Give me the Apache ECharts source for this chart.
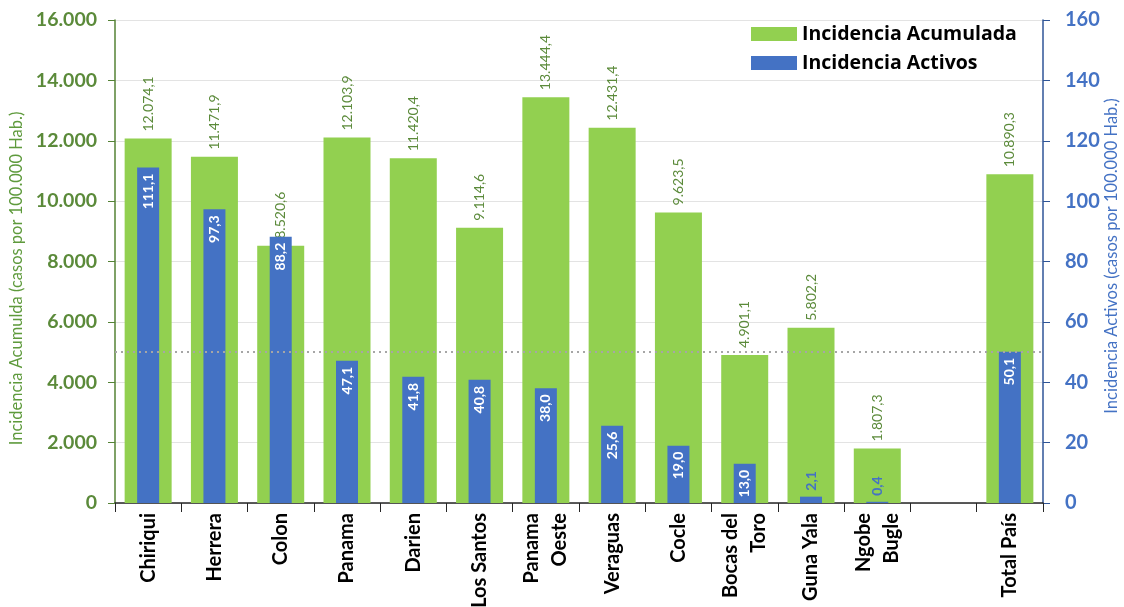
<!DOCTYPE html>
<html><head><meta charset="utf-8">
<script src="https://cdn.jsdelivr.net/npm/echarts@6/dist/echarts.min.js"></script>
<style>html,body{margin:0;padding:0;background:#fff}#c{width:1124px;height:607px}</style>
</head><body><div id="c"></div>
<script>
const categories = ['Chiriqui','Herrera','Colon','Panama','Darien','Los Santos','Panama\nOeste','Veraguas','Cocle','Bocas del\nToro','Guna Yala','Ngobe\nBugle','','Total País'];
const acumulada = [12074.1, 11471.9, 8520.6, 12103.9, 11420.4, 9114.6, 13444.4, 12431.4, 9623.5, 4901.1, 5802.2, 1807.3, null, 10890.3];
const activos = [111.1, 97.3, 88.2, 47.1, 41.8, 40.8, 38.0, 25.6, 19.0, 13.0, 2.1, 0.4, null, 50.1];
const leftTicks = {min: 0, max: 16000, interval: 2000};
const rightTicks = {min: 0, max: 160, interval: 20};
const refLine = 5000;
const rightAxisName = 'Incidencia Activos (casos por 100.000 Hab.)';

const FONT = 'Lato';
const GREEN = '#92D050', BLUE = '#4472C4', DKGREEN = '#5B8A3A';
function fmt(v, dec) {
  const s = v.toFixed(dec);
  let [i, d] = s.split('.');
  i = i.replace(/\B(?=(\d{3})+(?!\d))/g, '.');
  return d !== undefined ? i + ',' + d : i;
}
const blueData = activos.map(v => {
  if (v === null) return null;
  if (v < 5) return {value: v, label: {position: 'top', align: 'left', color: BLUE, distance: 6}};
  return v;
});
const chart = echarts.init(document.getElementById('c'));
chart.setOption({
  animation: false,
  textStyle: {fontFamily: FONT},
  grid: {left: 115, right: 81, top: 20, bottom: 104, containLabel: false, outerBoundsMode: 'none'},
  legend: {
    orient: 'vertical', left: 746, top: 19, itemWidth: 46, itemHeight: 14, itemGap: 9,
    icon: 'rect',
    textStyle: {fontFamily: 'Open Sans', fontSize: 19.5, fontWeight: 'bold', color: '#000'},
    data: ['Incidencia Acumulada', 'Incidencia Activos']
  },
  graphic: [{
    type: 'text', x: 1112, y: 256, rotation: Math.PI / 2, silent: true,
    style: {text: rightAxisName, fill: BLUE, font: '16.5px Lato', align: 'center', verticalAlign: 'middle'}
  }],
  xAxis: [{
    type: 'category', data: categories,
    axisLine: {lineStyle: {color: '#262626', width: 1.5}},
    axisTick: {show: true, length: 9, lineStyle: {color: '#262626'}},
    axisLabel: {rotate: 90, fontFamily: FONT, fontSize: 20, fontWeight: 'bold', color: '#000', margin: 10, lineHeight: 28, interval: 0}
  }, {
    type: 'category', data: categories, show: false
  }],
  yAxis: [{
    type: 'value', min: leftTicks.min, max: leftTicks.max, interval: leftTicks.interval,
    name: 'Incidencia Acumulda (casos por 100.000 Hab.)', nameLocation: 'middle', nameGap: 88,
    nameTextStyle: {color: '#5E9A3C', fontSize: 16.5, fontFamily: FONT, padding: [0, 34, 0, 0]},
    axisLine: {show: true, lineStyle: {color: '#548235', width: 1.5}},
    axisTick: {show: true, length: 7, lineStyle: {color: '#548235'}},
    axisLabel: {color: '#5B8A3A', fontSize: 19.5, fontWeight: 'bold', fontFamily: FONT, margin: 18, formatter: v => fmt(v, 0)},
    splitLine: {lineStyle: {color: '#E3E3E3', width: 1}}
  }, {
    type: 'value', min: rightTicks.min, max: rightTicks.max, interval: rightTicks.interval,
    axisLine: {show: true, lineStyle: {color: '#2F5597', width: 1.5}},
    axisTick: {show: true, length: 7, lineStyle: {color: '#2F5597'}},
    axisLabel: {color: BLUE, fontSize: 20, fontWeight: 'bold', fontFamily: FONT, margin: 22},
    splitLine: {show: false}
  }],
  series: [{
    name: 'Incidencia Acumulada', type: 'bar', data: acumulada, barWidth: 47,
    xAxisIndex: 0, yAxisIndex: 0, z: 2,
    itemStyle: {color: GREEN},
    label: {show: true, position: 'top', rotate: 90, align: 'left', verticalAlign: 'middle', distance: 7,
      color: DKGREEN, fontSize: 14, fontFamily: FONT, formatter: p => fmt(p.value, 1)},
    markLine: {silent: true, symbol: 'none', label: {show: false},
      lineStyle: {color: '#A6A6A6', type: [2, 4], width: 2},
      data: [{yAxis: refLine}]}
  }, {
    name: 'Incidencia Activos', type: 'bar', data: blueData, barWidth: 22,
    xAxisIndex: 1, yAxisIndex: 1, z: 3,
    itemStyle: {color: BLUE},
    label: {show: true, position: 'insideTop', rotate: 90, align: 'right', verticalAlign: 'middle', distance: 6,
      color: '#fff', fontSize: 14, fontWeight: 'bold', fontFamily: FONT, formatter: p => fmt(p.value, 1)}
  }]
});
</script></body></html>
